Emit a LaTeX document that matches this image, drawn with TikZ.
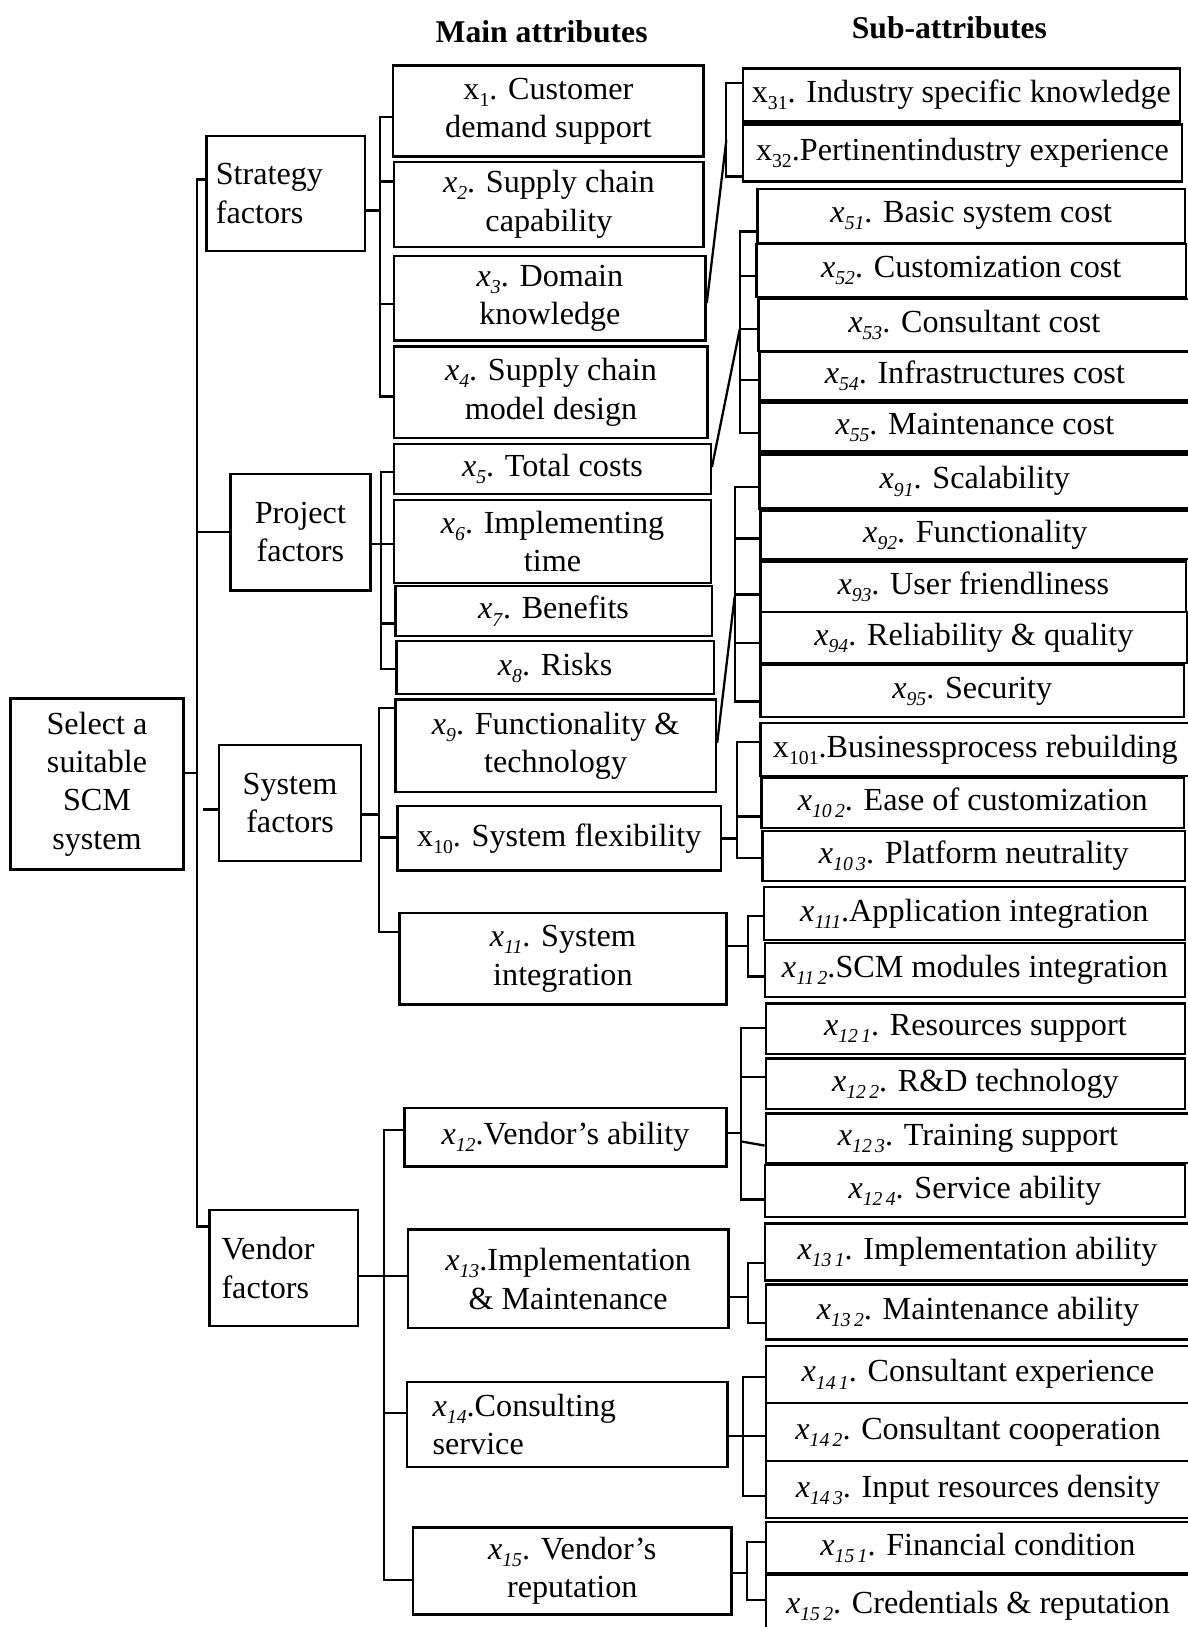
\documentclass[tikz,border=0pt]{standalone}
\usepackage{fontspec}
\setmainfont{Liberation Serif}
\newcommand\xsub[1]{\raisebox{-0.22em}{\fontsize{19}{19}\selectfont #1}}
\newcommand\xit[1]{\textit{x}\xsub{\textit{#1}}}
\newcommand\xup[1]{x\xsub{#1}}
\newcommand\bx[7][]{%
  \pgfmathsetmacro\bxcx{(#3+#5)/2}%
  \pgfmathsetmacro\bxcy{(#4+#6)/2}%
  \pgfmathsetmacro\bxw{#5-#3}%
  \pgfmathsetmacro\bxh{#6-#4}%
  \node[box,minimum width=\bxw pt,minimum height=\bxh pt,#1] (#2) at (\bxcx,\bxcy) {#7};}
\tikzset{
  box/.style={draw,line width=2.3pt,inner sep=0pt,align=center,font=\fontsize{31}{37}\selectfont},
  conn/.style={line width=2.2pt},
  title/.style={font=\fontsize{30.5}{34}\selectfont\bfseries}
}
\begin{document}
\begin{tikzpicture}[x=1pt,y=-1pt]
\useasboundingbox (0,0) rectangle (1144,1568);
% titles
\node[title] (tmain) at (522,31) {Main attributes};
\node[title] (tsub) at (915,27) {Sub-attributes};
% root and level 1
\bx{root}{10}{673}{177}{838}{Select a\\suitable\\SCM\\system}
\bx[align=left,text width=135pt,inner xsep=9pt]{strat}{199}{131}{352}{242}{Strategy\\factors}
\bx{proj}{222}{457}{357}{569}{Project\\factors}
\bx{sys}{211}{718}{348}{830}{System\\factors}
\bx[align=left,text width=120pt,inner xsep=11pt]{vend}{202}{1166}{345}{1278}{Vendor\\factors}
% main attributes
\bx{x1}{379}{63}{678}{151}{\xup{1}. Customer\\demand support}
\bx{x2}{380}{156}{678}{238}{\xit{2}. Supply chain\\capability}
\bx{x3}{380}{247}{680}{328}{\xit{3}. Domain\\knowledge}
\bx{x4}{380}{334}{682}{422}{\xit{4}. Supply chain\\model design}
\bx{x5}{380}{428}{685}{476}{\xit{5}. Total costs}
\bx{x6}{380}{482}{685}{562}{\xit{6}. Implementing\\time}
\bx{x7}{381}{565}{686}{613}{\xit{7}. Benefits}
\bx{x8}{382}{618}{688}{669}{\xit{8}. Risks}
\bx{x9}{381}{674}{690}{763}{\xit{9}. Functionality \&\\technology}
\bx{x10}{383}{777}{695}{839}{\xup{10}. System flexibility}
\bx{x11}{385}{880}{700}{968}{\xit{11}. System\\integration}
\bx{x12}{390}{1068}{700}{1124}{\xit{12}.Vendor’s ability}
\bx{x13}{393}{1185}{702}{1280}{\xit{13}.Implementation\\\& Maintenance}
\bx[align=left,text width=259pt,inner xsep=25pt]{x14}{392}{1332}{701}{1414}{\xit{14}.Consulting\\service}
\bx{x15}{398}{1472}{705}{1556}{\xit{15}. Vendor’s\\reputation}
% sub-attributes
\bx{x31}{716}{66}{1137}{117}{\xup{31}. Industry specific knowledge}
\bx{x32}{716}{120}{1139}{175}{\xup{32}.Pertinentindustry experience}
\bx{x51}{730}{182}{1142}{234}{\xit{51}. Basic system cost}
\bx{x52}{729}{235}{1143}{286}{\xit{52}. Customization cost}
\bx{x53}{731}{288}{1147}{338}{\xit{53}. Consultant cost}
\bx{x54}{732}{339}{1147}{386}{\xit{54}. Infrastructures cost}
\bx{x55}{732}{388}{1147}{435}{\xit{55}. Maintenance cost}
\bx{x91}{732}{438}{1147}{490}{\xit{91}. Scalability}
\bx{x92}{733}{492}{1147}{539}{\xit{92}. Functionality}
\bx{x93}{733}{541}{1143}{590}{\xit{93}. User friendliness}
\bx{x94}{733}{590}{1144}{639}{\xit{94}. Reliability \& quality}
\bx{x95}{733}{641}{1141}{691}{\xit{95}. Security}
\bx{x101}{733}{697}{1147}{748}{\xup{101}.Businessprocess rebuilding}
\bx{x102}{734}{750}{1141}{798}{\xit{10\,2}. Ease of customization}
\bx{x103}{735}{801}{1142}{849}{\xit{10\,3}. Platform neutrality}
\bx{x111}{736}{855}{1142}{906}{\xit{111}.Application integration}
\bx{x112}{737}{909}{1142}{961}{\xit{11\,2}.SCM modules integration}
\bx{x121}{738}{967}{1142}{1016}{\xit{12\,1}. Resources support}
\bx{x122}{738}{1020}{1142}{1069}{\xit{12\,2}. R\&D technology}
\bx{x123}{738}{1073}{1147}{1121}{\xit{12\,3}. Training support}
\bx{x124}{737}{1123}{1142}{1173}{\xit{12\,4}. Service ability}
\bx{x131}{737}{1179}{1147}{1234}{\xit{13\,1}. Implementation ability}
\bx{x132}{738}{1238}{1147}{1291}{\xit{13\,2}. Maintenance ability}
\bx{x141}{738}{1297}{1147}{1352}{\xit{14\,1}. Consultant experience}
\bx{x142}{738}{1352}{1147}{1408}{\xit{14\,2}. Consultant cooperation}
\bx{x143}{738}{1408}{1147}{1463}{\xit{14\,3}. Input resources density}
\bx{x151}{738}{1467}{1147}{1516}{\xit{15\,1}. Financial condition}
\bx{x152}{738}{1518}{1147}{1580}{\raisebox{9pt}{\xit{15\,2}. Credentials \& reputation}}
% trunk
\draw[conn] (root.east|-0,745) -- (190,745);
\draw[conn] (strat.west|-0,173) -- (190,173) -- (190,1182) -- (vend.west|-0,1182);
\draw[conn] (190,513) -- (proj.west|-0,513);
\draw[conn] (196,780) -- (sys.west|-0,780);
% strategy
\draw[conn] (strat.east|-0,203) -- (366,203);
\draw[conn] (x1.west|-0,113) -- (366,113) -- (366,382) -- (x4.west|-0,382);
\draw[conn] (366,175) -- (x2.west|-0,175);
\draw[conn] (366,293) -- (x3.west|-0,293);
% x3
\draw[conn] (x3.east|-0,292) -- (700,135);
\draw[conn] (x31.west|-0,80) -- (700,80) -- (700,170) -- (x32.west|-0,170);
% project
\draw[conn] (proj.east|-0,524) -- (367,524);
\draw[conn] (x5.west|-0,455) -- (367,455) -- (367,645) -- (x8.west|-0,645);
\draw[conn] (367,524) -- (x6.west|-0,524);
\draw[conn] (367,601) -- (x7.west|-0,601);
% x5
\draw[conn] (x5.east|-0,450) -- (713,317);
\draw[conn] (x51.west|-0,223) -- (713,223) -- (713,417) -- (x55.west|-0,417);
\draw[conn] (713,266) -- (x52.west|-0,266);
\draw[conn] (713,317) -- (x53.west|-0,317);
\draw[conn] (713,366) -- (x54.west|-0,366);
% system
\draw[conn] (sys.east|-0,785) -- (365,785);
\draw[conn] (x9.west|-0,682) -- (365,682) -- (365,898) -- (x11.west|-0,898);
\draw[conn] (365,807) -- (x10.west|-0,807);
% x9
\draw[conn] (x9.east|-0,716) -- (708,575);
\draw[conn] (x91.west|-0,469) -- (708,469) -- (708,676) -- (x95.west|-0,676);
\draw[conn] (708,519) -- (x92.west|-0,519);
\draw[conn] (708,573) -- (x93.west|-0,573);
\draw[conn] (708,620) -- (x94.west|-0,620);
% x10
\draw[conn] (x10.east|-0,808) -- (710,808);
\draw[conn] (x101.west|-0,715) -- (710,715) -- (710,827) -- (x103.west|-0,827);
\draw[conn] (710,787) -- (x102.west|-0,787);
% x11
\draw[conn] (x11.east|-0,912) -- (721,912);
\draw[conn] (x111.west|-0,883) -- (721,883) -- (721,941) -- (x112.west|-0,941);
% vendor
\draw[conn] (vend.east|-0,1230) -- (370,1230);
\draw[conn] (x12.west|-0,1089) -- (370,1089) -- (370,1523) -- (x15.west|-0,1523);
\draw[conn] (370,1230) -- (x13.west|-0,1230);
\draw[conn] (370,1362) -- (x14.west|-0,1362);
% x12
\draw[conn] (x12.east|-0,1092) -- (714,1092);
\draw[conn] (x121.west|-0,991) -- (714,991) -- (714,1156) -- (x124.west|-0,1156);
\draw[conn] (714,1038) -- (x122.west|-0,1038);
\draw[conn] (714,1100) -- (x123.west|-0,1104);
% x13
\draw[conn] (x13.east|-0,1250) -- (721,1250);
\draw[conn] (x131.west|-0,1217) -- (721,1217) -- (721,1275) -- (x132.west|-0,1275);
% x14
\draw[conn] (x14.east|-0,1384) -- (716,1384);
\draw[conn] (x141.west|-0,1327) -- (716,1327) -- (716,1442) -- (x143.west|-0,1442);
\draw[conn] (716,1384) -- (x142.west|-0,1384);
% x15
\draw[conn] (x15.east|-0,1516) -- (720,1516);
\draw[conn] (x151.west|-0,1486) -- (720,1486) -- (720,1542) -- (x152.west|-0,1542);
\end{tikzpicture}
\end{document}
